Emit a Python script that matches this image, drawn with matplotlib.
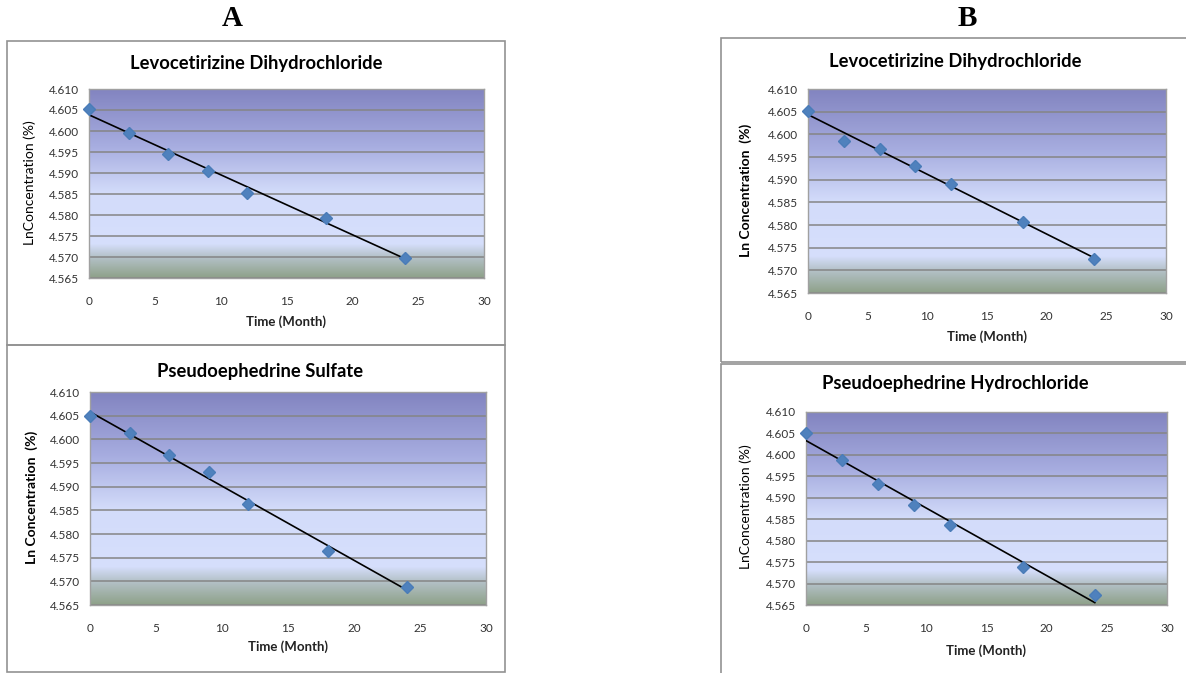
import numpy as np
import matplotlib
matplotlib.use("Agg")
import matplotlib.pyplot as plt
from matplotlib.patches import Rectangle
from matplotlib.colors import LinearSegmentedColormap

plt.rcParams['font.family'] = ['Lato', 'DejaVu Sans']

W, H = 1186, 673

# data
months = [0, 3, 6, 9, 12, 18, 24]
levo_a = [4.6052, 4.5996, 4.5945, 4.5904, 4.5853, 4.5794, 4.5698]
pse_sulfate = [4.6050, 4.6014, 4.5967, 4.5931, 4.5864, 4.5764, 4.5687]
levo_b = [4.6052, 4.5986, 4.5967, 4.5930, 4.5890, 4.5806, 4.5725]
pse_hcl = [4.6050, 4.5988, 4.5931, 4.5883, 4.5836, 4.5739, 4.5673]

titles = ["Levocetirizine Dihydrochloride", "Pseudoephedrine Sulfate",
          "Levocetirizine Dihydrochloride", "Pseudoephedrine Hydrochloride"]
ylabels = ["LnConcentration (%)", "Ln Concentration  (%)",
           "Ln Concentration  (%)", "LnConcentration (%)"]
ylabel_bold = [False, True, True, False]
xlabel = "Time (Month)"
yticks = [4.565, 4.570, 4.575, 4.580, 4.585, 4.590, 4.595, 4.600, 4.605, 4.610]
xticks = [0, 5, 10, 15, 20, 25, 30]

# layout in pixels (left, top, right, bottom)
plot_boxes = [(89, 89, 484, 278), (90, 392, 486, 605),
              (808, 89, 1166, 293), (806, 412, 1167, 605)]
frame_boxes = [(7, 41, 505, 345), (7, 345, 505, 672),
               (721, 38, 1190, 362), (721, 364, 1190, 676)]
title_pos = [(256, 63), (260, 372), (955, 61), (955, 384)]
ylab_pos = [(30, 183), (32, 497), (746, 190), (746, 507)]
xlab_pos = [(286, 322), (288, 647), (987, 337), (986, 651)]

grad_cmap = LinearSegmentedColormap.from_list("plotarea", [
    (0.0, "#8284c0"), (0.30, "#a7ade0"), (0.55, "#d3dcfa"),
    (0.82, "#d6dffc"), (0.885, "#b6c3cb"), (1.0, "#8ea189")])


def px(x, y):
    return x / W, 1 - y / H


fig = plt.figure(figsize=(W / 100, H / 100), dpi=100)

for (l, t, r, b) in frame_boxes:
    x0, y0 = px(l, b)
    fig.add_artist(Rectangle((x0, y0), (r - l) / W, (b - t) / H,
                             transform=fig.transFigure, fill=False,
                             edgecolor="#929292", lw=1.2))

series = [levo_a, pse_sulfate, levo_b, pse_hcl]
for i, yv in enumerate(series):
    l, t, r, b = plot_boxes[i]
    x0, y0 = px(l, b)
    ax = fig.add_axes([x0, y0, (r - l) / W, (b - t) / H])
    grad = np.linspace(0, 1, 256).reshape(-1, 1)
    ax.imshow(grad, extent=[0, 1, 0, 1], transform=ax.transAxes,
              aspect='auto', cmap=grad_cmap, zorder=0)
    ax.set_xlim(0, 30)
    ax.set_ylim(4.565, 4.610)
    ax.set_xticks(xticks)
    ax.set_yticks(yticks)
    ax.set_yticklabels([f"{v:.3f}" for v in yticks])
    ax.grid(axis='y', color="#858585", lw=1.1, zorder=1)
    ax.tick_params(length=0, labelsize=8.5, labelcolor="#333333")
    ax.tick_params(axis='y', pad=7)
    ax.tick_params(axis='x', pad=13)
    for s in ax.spines.values():
        s.set_color("#a0a0a0")
        s.set_linewidth(1)

    slope, icpt = np.polyfit(months, yv, 1)
    xs = np.array([months[0], months[-1]])
    ax.plot(xs, icpt + slope * xs, color="black", lw=1.2, zorder=3)
    ax.plot(months, yv, 'D', ms=6.5, color="#4f81bd", mec="#4a7cb8",
            zorder=4, clip_on=False)

    tx, ty = px(*title_pos[i])
    fig.text(tx, ty, titles[i], ha='center', va='center',
             fontsize=13.2, fontweight='bold', color="black")
    lx, ly = px(*ylab_pos[i])
    fig.text(lx, ly, ylabels[i], ha='center', va='center', rotation=90,
             fontsize=10, fontweight='bold' if ylabel_bold[i] else 'normal')
    xx, xy = px(*xlab_pos[i])
    fig.text(xx, xy, xlabel, ha='center', va='center',
             fontsize=9.5, fontweight='bold', color="#222222")

for lab, (x, y) in zip(["A", "B"], [(232, 18), (967, 18)]):
    fx, fy = px(x, y)
    fig.text(fx, fy, lab, ha='center', va='center', fontsize=21,
             fontweight='bold', family=['Liberation Serif', 'DejaVu Serif'])

fig.savefig("out.png", dpi=100)
